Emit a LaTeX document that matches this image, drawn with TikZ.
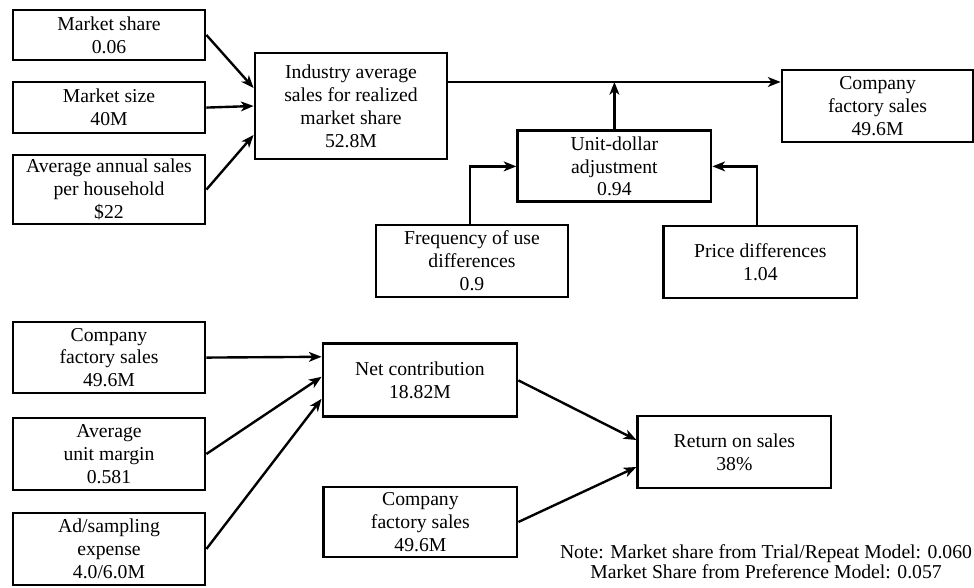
\documentclass[tikz,border=0pt]{standalone}
\usepackage{fontspec}
\setmainfont{Liberation Serif}
\usetikzlibrary{arrows.meta}

\tikzset{
    box/.style={draw, line width=2pt, align=center, inner sep=0pt,
        minimum width=4.8cm, font=\fontsize{14pt}{16.3pt}\selectfont},
    link/.style={line width=1.7pt, -{Stealth[length=9pt, width=7pt, inset=2.5pt]}}
}

\begin{document}
\begin{tikzpicture}
        \useasboundingbox (0,0) rectangle (24.35,14.7);

        % Draw the sales chain
        \node[box, minimum height=1.25cm] (share) at (2.725,13.825) {Market share\\0.06};
        \node[box, minimum height=1.275cm] (size) at (2.725,12.01) {Market size\\40M};
        \node[box, minimum height=1.725cm] (avgsales) at (2.725,9.96) {Average annual sales\\per household\\\$22};
        \node[box, minimum height=2.65cm] (industry) at (8.775,12.05) {Industry average\\sales for realized\\market share\\52.8M};
        \node[box, minimum width=4.78cm, minimum height=1.8cm] (factory) at (21.94,12.05) {Company\\factory sales\\49.6M};
        \node[box, minimum width=4.83cm, minimum height=1.775cm] (unitdollar) at (15.36,10.54) {Unit-dollar\\adjustment\\0.94};
        \node[box, minimum height=1.8cm] (frequency) at (11.8,8.175) {Frequency of use\\differences\\0.9};
        \node[box, minimum width=4.83cm, minimum height=1.8cm] (price) at (19.01,8.15) {Price differences\\1.04};

        \draw[link] (share.east) -- ([yshift=0.45cm]industry.west);
        \draw[link] (size.east) -- (industry.west);
        \draw[link] (avgsales.east) -- ([yshift=-0.725cm]industry.west);
        \coordinate (flow) at ([yshift=0.6cm]industry.east); % main line
        \draw[link] (flow) -- (flow -| factory.west);
        \draw[link] (unitdollar.north) -- (unitdollar.north |- flow);
        \draw[link] ([xshift=-0.05cm]frequency.north) |- (unitdollar.west);
        \draw[link] ([xshift=-0.08cm]price.north) |- (unitdollar.east);

        % Draw the contribution chain
        \node[box, minimum height=1.775cm] (factoryB) at (2.725,5.76) {Company\\factory sales\\49.6M};
        \node[box, minimum height=1.8cm] (margin) at (2.725,3.35) {Average\\unit margin\\0.581};
        \node[box, minimum height=1.8cm] (adexpense) at (2.725,0.975) {Ad/sampling\\expense\\4.0/6.0M};
        \node[box, minimum width=4.85cm, minimum height=1.825cm] (net) at (10.5,5.19) {Net contribution\\18.82M};
        \node[box, minimum width=4.83cm, minimum height=1.75cm] (factoryC) at (10.51,1.65) {Company\\factory sales\\49.6M};
        \node[box, minimum width=4.83cm, minimum height=1.8cm] (return) at (18.36,3.4) {Return on sales\\38\%};

        \draw[link] (factoryB.east) -- ([yshift=0.59cm]net.west);
        \draw[link] (margin.east) -- ([yshift=0.09cm]net.west);
        \draw[link] (adexpense.east) -- ([yshift=-0.46cm]net.west);
        \draw[link] (net.east) -- ([yshift=0.3cm]return.west);
        \draw[link] (factoryC.east) -- ([yshift=-0.375cm]return.west);

        \node[align=center, font=\fontsize{14pt}{14.5pt}\selectfont] (note) at (19.15,0.66)
            {Note: Market share from Trial/Repeat Model: 0.060\\Market Share from Preference Model: 0.057};
    \end{tikzpicture}
\end{document}
